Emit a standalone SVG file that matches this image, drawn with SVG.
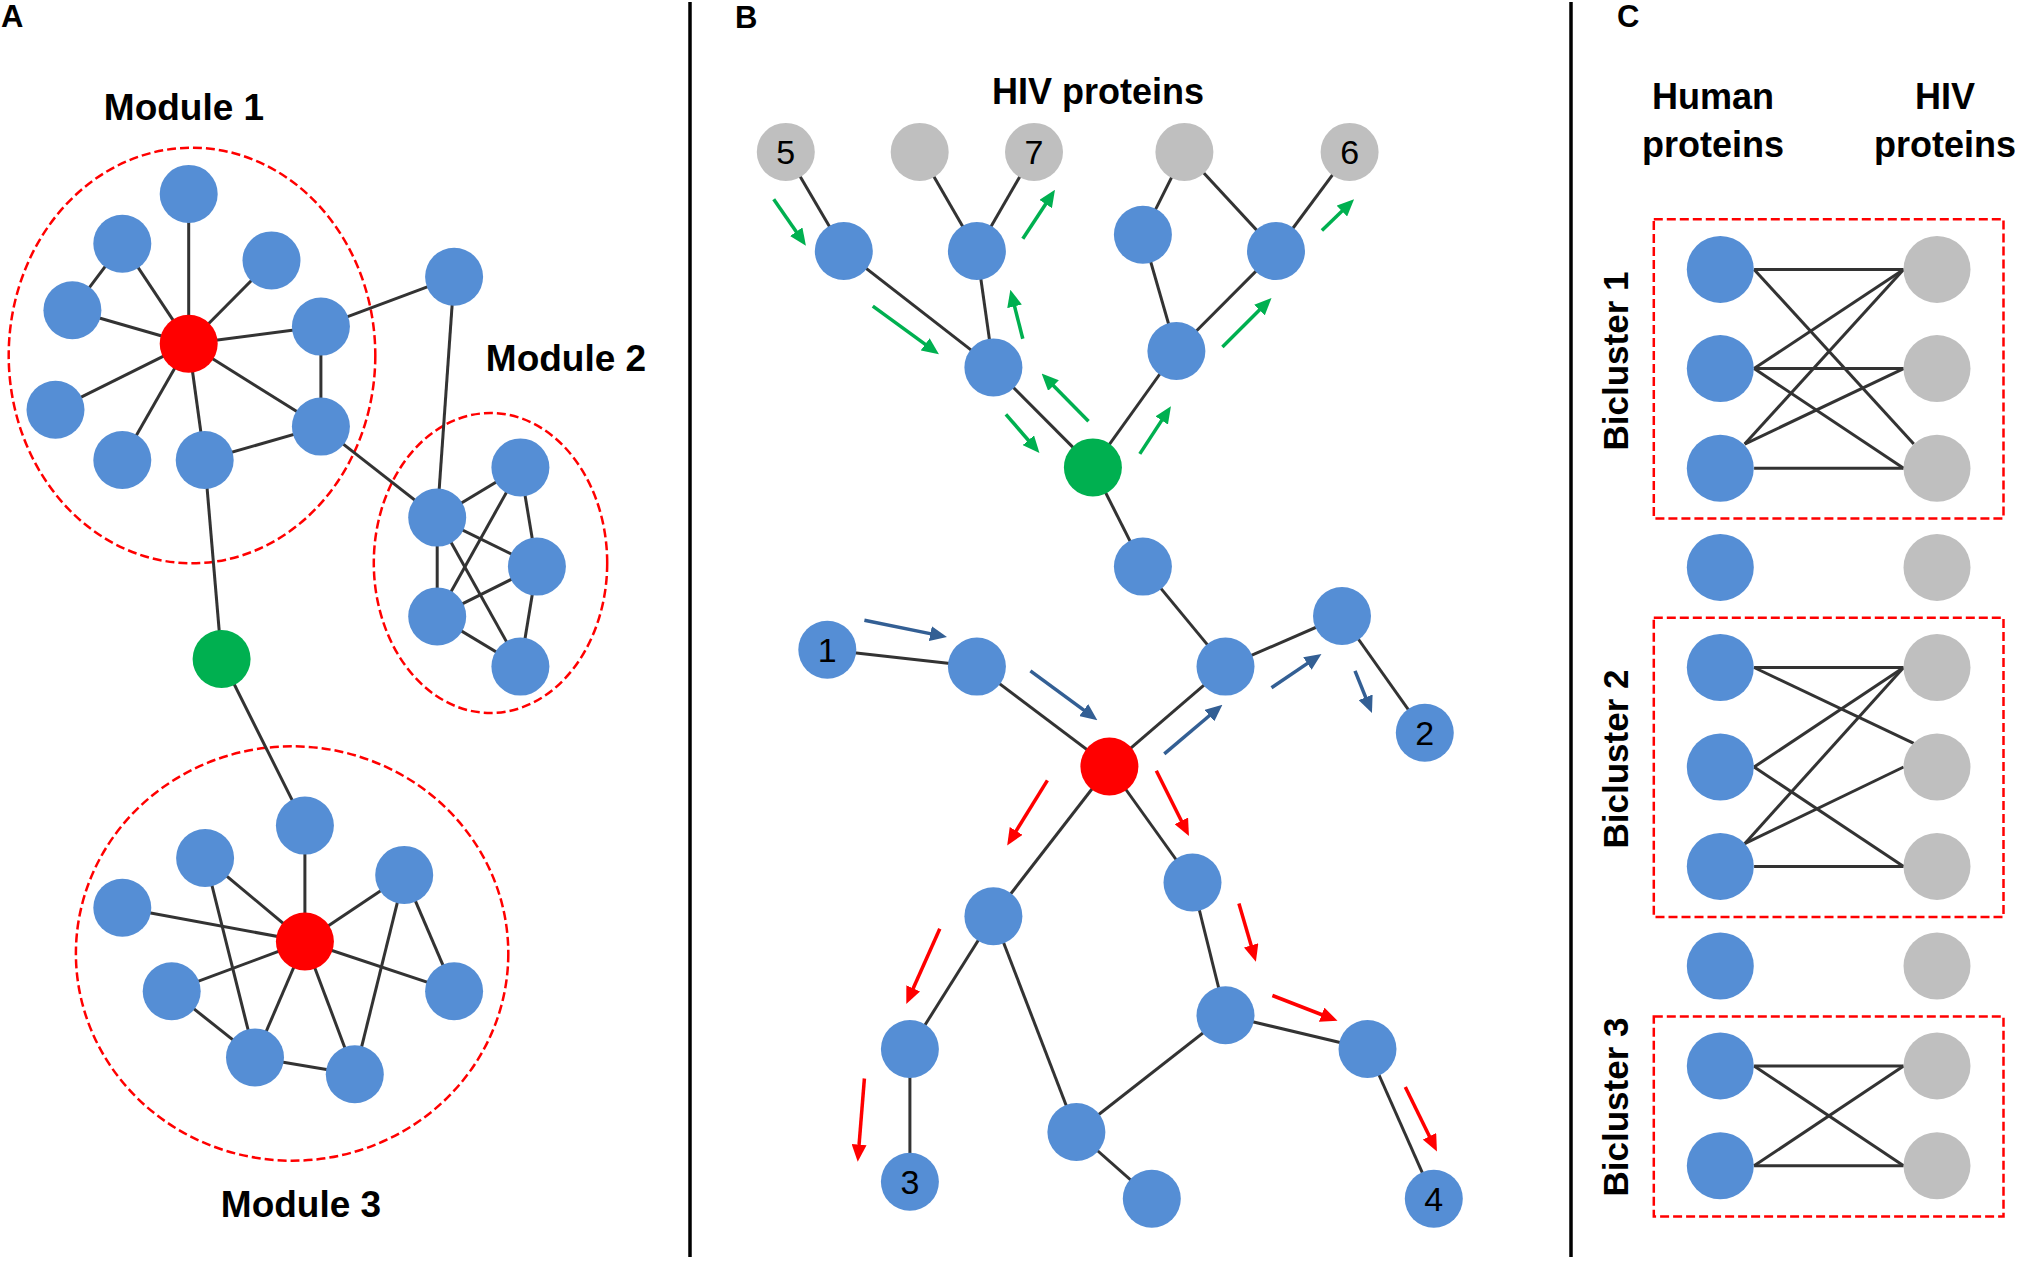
<svg xmlns="http://www.w3.org/2000/svg" width="2019" height="1261" viewBox="0 0 2019 1261">
<defs>
<style>
.bg{fill:#ffffff}
.nb{fill:#558ED5}
.ng{fill:#BFBFBF}
.nr{fill:#FF0000}
.ngr{fill:#00B050}
.edge{stroke:#333333;stroke-width:3;fill:none}
.div{stroke:#000000;stroke-width:3.5}
.mod{fill:none;stroke:#FF0000;stroke-width:2.5;stroke-dasharray:9 4}
.lbl{font-family:"Liberation Sans",Arial,sans-serif;font-weight:bold;font-size:36px;fill:#000}
.pan{font-family:"Liberation Sans",Arial,sans-serif;font-weight:bold;font-size:31px;fill:#000}
.num{font-family:"Liberation Sans",Arial,sans-serif;font-size:34px;fill:#000;text-anchor:middle}
.ag{stroke:#00B050;stroke-width:3.5;marker-end:url(#hg)}
.ab{stroke:#335F94;stroke-width:3.5;marker-end:url(#hb)}
.ar{stroke:#FF0000;stroke-width:3.5;marker-end:url(#hr)}
</style>
<marker id="hg" markerUnits="userSpaceOnUse" markerWidth="17" markerHeight="15" refX="1" refY="7.5" orient="auto"><path d="M0,0 L17,7.5 L0,15 z" fill="#00B050"/></marker>
<marker id="hb" markerUnits="userSpaceOnUse" markerWidth="17" markerHeight="15" refX="1" refY="7.5" orient="auto"><path d="M0,0 L17,7.5 L0,15 z" fill="#335F94"/></marker>
<marker id="hr" markerUnits="userSpaceOnUse" markerWidth="17" markerHeight="15" refX="1" refY="7.5" orient="auto"><path d="M0,0 L17,7.5 L0,15 z" fill="#FF0000"/></marker>
</defs>
<rect class="bg" x="0" y="0" width="2019" height="1261"/>

<!-- panel dividers and labels -->
<line class="div" x1="690" y1="2" x2="690" y2="1257"/>
<line class="div" x1="1571" y1="2" x2="1571" y2="1257"/>
<text class="pan" x="1" y="27">A</text>
<text class="pan" x="735" y="28">B</text>
<text class="pan" x="1617" y="27">C</text>

<!-- Panel A modules -->
<g id="A-modules">
<ellipse class="mod" cx="192" cy="355.5" rx="183.3" ry="207.8"/>
<ellipse class="mod" cx="490.5" cy="563" rx="116.7" ry="150"/>
<ellipse class="mod" cx="292.1" cy="953.5" rx="216.2" ry="207.2"/>
<text class="lbl" x="184" y="120" text-anchor="middle" style="font-size:37px">Module 1</text>
<text class="lbl" x="566" y="371" text-anchor="middle" style="font-size:37px">Module 2</text>
<text class="lbl" x="301" y="1217" text-anchor="middle" style="font-size:37px">Module 3</text>
</g>

<!-- Panel C boxes -->
<g id="C-boxes">
<rect class="mod" x="1653.8" y="219.2" width="349.7" height="299.2"/>
<rect class="mod" x="1653.8" y="617.7" width="349.7" height="299.3"/>
<rect class="mod" x="1653.8" y="1016.5" width="349.7" height="199.9"/>
<text class="lbl" transform="translate(1628,361) rotate(-90)" text-anchor="middle" style="font-size:35px">Bicluster 1</text>
<text class="lbl" transform="translate(1628,759) rotate(-90)" text-anchor="middle" style="font-size:35px">Bicluster 2</text>
<text class="lbl" transform="translate(1628,1107) rotate(-90)" text-anchor="middle" style="font-size:35px">Bicluster 3</text>
<text class="lbl" x="1713" y="109" text-anchor="middle">Human</text>
<text class="lbl" x="1713" y="157" text-anchor="middle">proteins</text>
<text class="lbl" x="1945" y="109" text-anchor="middle">HIV</text>
<text class="lbl" x="1945" y="157" text-anchor="middle">proteins</text>
</g>
<text class="lbl" x="1098" y="104" text-anchor="middle">HIV proteins</text>

<!-- connectors -->
<g id="connectors">
<!-- A module 1 -->
<line class="edge" x1="188.7" y1="343.7" x2="188.7" y2="193.9"/>
<line class="edge" x1="188.7" y1="343.7" x2="122.3" y2="243.7"/>
<line class="edge" x1="188.7" y1="343.7" x2="72.4" y2="310.2"/>
<line class="edge" x1="188.7" y1="343.7" x2="271.5" y2="260.4"/>
<line class="edge" x1="188.7" y1="343.7" x2="320.9" y2="326.6"/>
<line class="edge" x1="188.7" y1="343.7" x2="55.5" y2="409.8"/>
<line class="edge" x1="188.7" y1="343.7" x2="122.3" y2="460"/>
<line class="edge" x1="188.7" y1="343.7" x2="204.7" y2="460"/>
<line class="edge" x1="188.7" y1="343.7" x2="320.9" y2="426.6"/>
<line class="edge" x1="122.3" y1="243.7" x2="72.4" y2="310.2"/>
<line class="edge" x1="320.9" y1="326.6" x2="320.9" y2="426.6"/>
<line class="edge" x1="204.7" y1="460" x2="320.9" y2="426.6"/>
<line class="edge" x1="320.9" y1="326.6" x2="454.1" y2="276.8"/>
<line class="edge" x1="204.7" y1="460" x2="221.6" y2="659"/>
<line class="edge" x1="454.1" y1="276.8" x2="437.2" y2="517.6"/>
<line class="edge" x1="320.9" y1="426.6" x2="437.2" y2="517.6"/>
<!-- A module 2 -->
<line class="edge" x1="520.4" y1="467.4" x2="437.2" y2="517.6"/>
<line class="edge" x1="520.4" y1="467.4" x2="437.2" y2="616.4"/>
<line class="edge" x1="520.4" y1="467.4" x2="536.9" y2="566.6"/>
<line class="edge" x1="437.2" y1="517.6" x2="437.2" y2="616.4"/>
<line class="edge" x1="437.2" y1="517.6" x2="536.9" y2="566.6"/>
<line class="edge" x1="437.2" y1="517.6" x2="520.4" y2="666.6"/>
<line class="edge" x1="437.2" y1="616.4" x2="536.9" y2="566.6"/>
<line class="edge" x1="536.9" y1="566.6" x2="520.4" y2="666.6"/>
<line class="edge" x1="437.2" y1="616.4" x2="520.4" y2="666.6"/>
<!-- A module 3 -->
<line class="edge" x1="221.6" y1="659" x2="304.9" y2="825.6"/>
<line class="edge" x1="304.9" y1="941.5" x2="304.9" y2="825.6"/>
<line class="edge" x1="304.9" y1="941.5" x2="205.1" y2="858"/>
<line class="edge" x1="304.9" y1="941.5" x2="404.2" y2="874.9"/>
<line class="edge" x1="304.9" y1="941.5" x2="122.3" y2="907.8"/>
<line class="edge" x1="304.9" y1="941.5" x2="171.7" y2="991.2"/>
<line class="edge" x1="304.9" y1="941.5" x2="454.1" y2="991.2"/>
<line class="edge" x1="304.9" y1="941.5" x2="255" y2="1057.4"/>
<line class="edge" x1="304.9" y1="941.5" x2="354.8" y2="1074.3"/>
<line class="edge" x1="205.1" y1="858" x2="255" y2="1057.4"/>
<line class="edge" x1="171.7" y1="991.2" x2="255" y2="1057.4"/>
<line class="edge" x1="255" y1="1057.4" x2="354.8" y2="1074.3"/>
<line class="edge" x1="404.2" y1="874.9" x2="454.1" y2="991.2"/>
<line class="edge" x1="404.2" y1="874.9" x2="354.8" y2="1074.3"/>
<!-- B -->
<line class="edge" x1="785.8" y1="151.9" x2="843.8" y2="251"/>
<line class="edge" x1="919.7" y1="151.9" x2="976.9" y2="251"/>
<line class="edge" x1="1034" y1="151.9" x2="976.9" y2="251"/>
<line class="edge" x1="1184.4" y1="151.9" x2="1142.9" y2="234.7"/>
<line class="edge" x1="1184.4" y1="151.9" x2="1276" y2="251"/>
<line class="edge" x1="1349.6" y1="151.9" x2="1276" y2="251"/>
<line class="edge" x1="843.8" y1="251" x2="993.4" y2="367.4"/>
<line class="edge" x1="976.9" y1="251" x2="993.4" y2="367.4"/>
<line class="edge" x1="1142.9" y1="234.7" x2="1176.4" y2="351"/>
<line class="edge" x1="1276" y1="251" x2="1176.4" y2="351"/>
<line class="edge" x1="993.4" y1="367.4" x2="1092.9" y2="467.4"/>
<line class="edge" x1="1176.4" y1="351" x2="1092.9" y2="467.4"/>
<line class="edge" x1="1092.9" y1="467.4" x2="1142.9" y2="566.6"/>
<line class="edge" x1="1142.9" y1="566.6" x2="1225.5" y2="666.6"/>
<line class="edge" x1="1225.5" y1="666.6" x2="1342" y2="616"/>
<line class="edge" x1="1342" y1="616" x2="1424.8" y2="732.8"/>
<line class="edge" x1="1225.5" y1="666.6" x2="1109.4" y2="766.5"/>
<line class="edge" x1="827.3" y1="649.7" x2="976.9" y2="666.6"/>
<line class="edge" x1="976.9" y1="666.6" x2="1109.4" y2="766.5"/>
<line class="edge" x1="1109.4" y1="766.5" x2="993.4" y2="916.2"/>
<line class="edge" x1="1109.4" y1="766.5" x2="1192.5" y2="882.5"/>
<line class="edge" x1="993.4" y1="916.2" x2="909.9" y2="1049"/>
<line class="edge" x1="909.9" y1="1049" x2="909.9" y2="1181.8"/>
<line class="edge" x1="993.4" y1="916.2" x2="1076.4" y2="1132"/>
<line class="edge" x1="1192.5" y1="882.5" x2="1225.5" y2="1015.3"/>
<line class="edge" x1="1225.5" y1="1015.3" x2="1076.4" y2="1132"/>
<line class="edge" x1="1225.5" y1="1015.3" x2="1367.5" y2="1049"/>
<line class="edge" x1="1367.5" y1="1049" x2="1433.8" y2="1198.7"/>
<line class="edge" x1="1076.4" y1="1132" x2="1151.8" y2="1198.7"/>
<!-- C bicluster 1 -->
<line class="edge" x1="1754.1" y1="269.4" x2="1903.6" y2="269.4"/>
<line class="edge" x1="1754.1" y1="269.4" x2="1913.8" y2="444.1"/>
<line class="edge" x1="1754.1" y1="368.6" x2="1903.6" y2="269.4"/>
<line class="edge" x1="1754.1" y1="368.6" x2="1903.6" y2="368.6"/>
<line class="edge" x1="1754.1" y1="368.6" x2="1903.6" y2="468.2"/>
<line class="edge" x1="1744.7" y1="444.1" x2="1903.6" y2="269.4"/>
<line class="edge" x1="1744.7" y1="444.1" x2="1903.6" y2="368.6"/>
<line class="edge" x1="1754.1" y1="468.2" x2="1903.6" y2="468.2"/>
<!-- C bicluster 2 -->
<line class="edge" x1="1754.1" y1="667.5" x2="1903.6" y2="667.5"/>
<line class="edge" x1="1754.1" y1="667.5" x2="1913.8" y2="743.3"/>
<line class="edge" x1="1754.1" y1="767" x2="1903.6" y2="667.5"/>
<line class="edge" x1="1754.1" y1="767" x2="1903.6" y2="866.4"/>
<line class="edge" x1="1744.7" y1="843.7" x2="1903.6" y2="667.5"/>
<line class="edge" x1="1744.7" y1="843.7" x2="1903.6" y2="767"/>
<line class="edge" x1="1754.1" y1="866.4" x2="1903.6" y2="866.4"/>
<!-- C bicluster 3 -->
<line class="edge" x1="1754.1" y1="1065.9" x2="1903.6" y2="1065.9"/>
<line class="edge" x1="1754.1" y1="1065.9" x2="1903.6" y2="1165.8"/>
<line class="edge" x1="1754.1" y1="1165.8" x2="1903.6" y2="1065.9"/>
<line class="edge" x1="1754.1" y1="1165.8" x2="1903.6" y2="1165.8"/>
<!-- B arrows green -->
<line class="ag" x1="773.7" y1="199.2" x2="796.8" y2="232.5"/>
<line class="ag" x1="872.8" y1="306.2" x2="926" y2="344.9"/>
<line class="ag" x1="1022.8" y1="238.8" x2="1046.2" y2="203.2"/>
<line class="ag" x1="1022.8" y1="338.8" x2="1014.3" y2="305.3"/>
<line class="ag" x1="1005.9" y1="414.3" x2="1029" y2="441"/>
<line class="ag" x1="1088.5" y1="421.3" x2="1052.8" y2="384.9"/>
<line class="ag" x1="1139.8" y1="453.9" x2="1162.2" y2="419.6"/>
<line class="ag" x1="1222.4" y1="347" x2="1260.2" y2="309.3"/>
<line class="ag" x1="1321.9" y1="230.6" x2="1342.6" y2="210.4"/>
<!-- B arrows blue -->
<line class="ab" x1="864.4" y1="620.2" x2="931.3" y2="633.9"/>
<line class="ab" x1="1030.4" y1="670.8" x2="1084.5" y2="710.7"/>
<line class="ab" x1="1164.3" y1="753.9" x2="1210.2" y2="715"/>
<line class="ab" x1="1271.5" y1="687.7" x2="1308.2" y2="662.9"/>
<line class="ab" x1="1355" y1="670.8" x2="1366" y2="698.2"/>
<!-- B arrows red -->
<line class="ar" x1="1047.4" y1="780.4" x2="1015.6" y2="831.8"/>
<line class="ar" x1="1156.3" y1="770.7" x2="1181.8" y2="821.8"/>
<line class="ar" x1="939.8" y1="928.8" x2="912.8" y2="989.3"/>
<line class="ar" x1="1238.9" y1="903.6" x2="1251.4" y2="946.3"/>
<line class="ar" x1="1272.4" y1="995.5" x2="1322.6" y2="1015"/>
<line class="ar" x1="864.4" y1="1078.5" x2="859" y2="1145.7"/>
<line class="ar" x1="1405.3" y1="1087" x2="1429.9" y2="1137.2"/>
</g>

<!-- Panel A nodes -->
<g id="A-m1-n1"><circle class="nb" cx="188.7" cy="193.9" r="29"/></g>
<g id="A-m1-n2"><circle class="nb" cx="122.3" cy="243.7" r="29"/></g>
<g id="A-m1-n3"><circle class="nb" cx="271.5" cy="260.4" r="29"/></g>
<g id="A-m1-n4"><circle class="nb" cx="72.4" cy="310.2" r="29"/></g>
<g id="A-m1-hub"><circle class="nr" cx="188.7" cy="343.7" r="29"/></g>
<g id="A-m1-n5"><circle class="nb" cx="320.9" cy="326.6" r="29"/></g>
<g id="A-ext"><circle class="nb" cx="454.1" cy="276.8" r="29"/></g>
<g id="A-m1-n6"><circle class="nb" cx="55.5" cy="409.8" r="29"/></g>
<g id="A-m1-n7"><circle class="nb" cx="122.3" cy="460" r="29"/></g>
<g id="A-m1-n8"><circle class="nb" cx="204.7" cy="460" r="29"/></g>
<g id="A-m1-n9"><circle class="nb" cx="320.9" cy="426.6" r="29"/></g>
<g id="A-m2-a"><circle class="nb" cx="520.4" cy="467.4" r="29"/></g>
<g id="A-m2-b"><circle class="nb" cx="437.2" cy="517.6" r="29"/></g>
<g id="A-m2-c"><circle class="nb" cx="536.9" cy="566.6" r="29"/></g>
<g id="A-m2-d"><circle class="nb" cx="437.2" cy="616.4" r="29"/></g>
<g id="A-m2-e"><circle class="nb" cx="520.4" cy="666.6" r="29"/></g>
<g id="A-green"><circle class="ngr" cx="221.6" cy="659" r="29"/></g>
<g id="A-m3-n1"><circle class="nb" cx="304.9" cy="825.6" r="29"/></g>
<g id="A-m3-n2"><circle class="nb" cx="205.1" cy="858" r="29"/></g>
<g id="A-m3-n3"><circle class="nb" cx="404.2" cy="874.9" r="29"/></g>
<g id="A-m3-n4"><circle class="nb" cx="122.3" cy="907.8" r="29"/></g>
<g id="A-m3-hub"><circle class="nr" cx="304.9" cy="941.5" r="29"/></g>
<g id="A-m3-n5"><circle class="nb" cx="171.7" cy="991.2" r="29"/></g>
<g id="A-m3-n6"><circle class="nb" cx="454.1" cy="991.2" r="29"/></g>
<g id="A-m3-n7"><circle class="nb" cx="255" cy="1057.4" r="29"/></g>
<g id="A-m3-n8"><circle class="nb" cx="354.8" cy="1074.3" r="29"/></g>

<!-- Panel B nodes -->
<g id="B-hiv5"><circle class="ng" cx="785.8" cy="151.9" r="29"/><text class="num" x="785.8" y="164">5</text></g>
<g id="B-hiv-a"><circle class="ng" cx="919.7" cy="151.9" r="29"/></g>
<g id="B-hiv7"><circle class="ng" cx="1034" cy="151.9" r="29"/><text class="num" x="1034" y="164">7</text></g>
<g id="B-hiv-b"><circle class="ng" cx="1184.4" cy="151.9" r="29"/></g>
<g id="B-hiv6"><circle class="ng" cx="1349.6" cy="151.9" r="29"/><text class="num" x="1349.6" y="164">6</text></g>
<g id="B-n1"><circle class="nb" cx="843.8" cy="251" r="29"/></g>
<g id="B-n2"><circle class="nb" cx="976.9" cy="251" r="29"/></g>
<g id="B-n3"><circle class="nb" cx="1142.9" cy="234.7" r="29"/></g>
<g id="B-n4"><circle class="nb" cx="1276" cy="251" r="29"/></g>
<g id="B-n5"><circle class="nb" cx="993.4" cy="367.4" r="29"/></g>
<g id="B-n6"><circle class="nb" cx="1176.4" cy="351" r="29"/></g>
<g id="B-green"><circle class="ngr" cx="1092.9" cy="467.4" r="29"/></g>
<g id="B-n7"><circle class="nb" cx="1142.9" cy="566.6" r="29"/></g>
<g id="B-n8"><circle class="nb" cx="1342" cy="616" r="29"/></g>
<g id="B-n9"><circle class="nb" cx="1225.5" cy="666.6" r="29"/></g>
<g id="B-one"><circle class="nb" cx="827.3" cy="649.7" r="29"/><text class="num" x="827.3" y="662">1</text></g>
<g id="B-n10"><circle class="nb" cx="976.9" cy="666.6" r="29"/></g>
<g id="B-two"><circle class="nb" cx="1424.8" cy="732.8" r="29"/><text class="num" x="1424.8" y="745">2</text></g>
<g id="B-red"><circle class="nr" cx="1109.4" cy="766.5" r="29"/></g>
<g id="B-n11"><circle class="nb" cx="1192.5" cy="882.5" r="29"/></g>
<g id="B-n12"><circle class="nb" cx="993.4" cy="916.2" r="29"/></g>
<g id="B-n13"><circle class="nb" cx="909.9" cy="1049" r="29"/></g>
<g id="B-n14"><circle class="nb" cx="1225.5" cy="1015.3" r="29"/></g>
<g id="B-n15"><circle class="nb" cx="1367.5" cy="1049" r="29"/></g>
<g id="B-n16"><circle class="nb" cx="1076.4" cy="1132" r="29"/></g>
<g id="B-n17"><circle class="nb" cx="1151.8" cy="1198.7" r="29"/></g>
<g id="B-three"><circle class="nb" cx="909.9" cy="1181.8" r="29"/><text class="num" x="909.9" y="1194">3</text></g>
<g id="B-four"><circle class="nb" cx="1433.8" cy="1198.7" r="29"/><text class="num" x="1433.8" y="1211">4</text></g>

<!-- Panel C nodes -->
<g id="C-h1"><circle class="nb" cx="1720.3" cy="269.4" r="33.5"/></g>
<g id="C-h2"><circle class="nb" cx="1720.3" cy="368.6" r="33.5"/></g>
<g id="C-h3"><circle class="nb" cx="1720.3" cy="468.2" r="33.5"/></g>
<g id="C-h4"><circle class="nb" cx="1720.3" cy="567.4" r="33.5"/></g>
<g id="C-h5"><circle class="nb" cx="1720.3" cy="667.5" r="33.5"/></g>
<g id="C-h6"><circle class="nb" cx="1720.3" cy="767" r="33.5"/></g>
<g id="C-h7"><circle class="nb" cx="1720.3" cy="866.4" r="33.5"/></g>
<g id="C-h8"><circle class="nb" cx="1720.3" cy="966" r="33.5"/></g>
<g id="C-h9"><circle class="nb" cx="1720.3" cy="1065.9" r="33.5"/></g>
<g id="C-h10"><circle class="nb" cx="1720.3" cy="1165.8" r="33.5"/></g>
<g id="C-v1"><circle class="ng" cx="1937" cy="269.4" r="33.5"/></g>
<g id="C-v2"><circle class="ng" cx="1937" cy="368.6" r="33.5"/></g>
<g id="C-v3"><circle class="ng" cx="1937" cy="468.2" r="33.5"/></g>
<g id="C-v4"><circle class="ng" cx="1937" cy="567.4" r="33.5"/></g>
<g id="C-v5"><circle class="ng" cx="1937" cy="667.5" r="33.5"/></g>
<g id="C-v6"><circle class="ng" cx="1937" cy="767" r="33.5"/></g>
<g id="C-v7"><circle class="ng" cx="1937" cy="866.4" r="33.5"/></g>
<g id="C-v8"><circle class="ng" cx="1937" cy="966" r="33.5"/></g>
<g id="C-v9"><circle class="ng" cx="1937" cy="1065.9" r="33.5"/></g>
<g id="C-v10"><circle class="ng" cx="1937" cy="1165.8" r="33.5"/></g>
</svg>
